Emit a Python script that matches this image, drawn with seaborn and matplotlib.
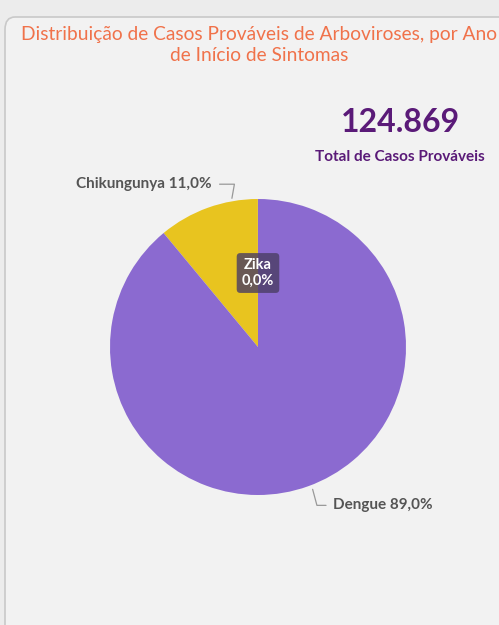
import numpy as np
import matplotlib
matplotlib.use("Agg")
import matplotlib.pyplot as plt
from matplotlib.patches import FancyBboxPatch
import seaborn as sns

# Data
diseases = ["Zika", "Chikungunya", "Dengue"]
cases = [19, 13730, 111120]
colors = ["#5B4A7A", "#E8C41F", "#8B6AD0"]

title = "Distribuição de Casos Prováveis de Arboviroses, por Ano\nde Início de Sintomas"
kpi_label = "Total de Casos Prováveis"

sns.set_theme(style="white")
plt.rcParams["font.family"] = ["Lato", "DejaVu Sans"]

W, H = 499, 625
fig = plt.figure(figsize=(W / 100, H / 100), dpi=100)
fig.patch.set_facecolor("#ECECEC")


def fx(x):
    return x / W


def fy(y):
    return 1 - y / H


# card background
card = FancyBboxPatch((fx(5), fy(700)), fx(600), fy(17) - fy(700),
                      boxstyle="round,pad=0,rounding_size=0.02",
                      transform=fig.transFigure, facecolor="#F2F2F2",
                      edgecolor="#C9C9C9", linewidth=1.2, zorder=-5)
fig.patches.append(card)

# pie axes: center (258, 347), radius 148 px
cx, cy, r = 258, 347, 148
ax = fig.add_axes([fx(cx - r), fy(cy + r), 2 * r / W, 2 * r / H])
ax.set_zorder(2)
ax.set_facecolor("none")
wedges, _ = ax.pie(cases, colors=colors, startangle=90, counterclock=True,
                   radius=1, wedgeprops=dict(linewidth=0))
ax.set_xlim(-1, 1)
ax.set_ylim(-1, 1)
ax.axis("off")

total = sum(cases)
pct = [c / total * 100 for c in cases]


def fmt_pct(p):
    return f"{p:.1f}%".replace(".", ",")


# Chikungunya label
ang = np.deg2rad(wedges[1].theta1 + 0.25 * (wedges[1].theta2 - wedges[1].theta1))
ax.annotate(f"{diseases[1]} {fmt_pct(pct[1])}",
            xy=(1.02 * np.cos(ang), 1.02 * np.sin(ang)), xytext=(-0.31, 1.10),
            ha="right", va="center", fontsize=11, fontweight="bold", color="#555555",
            arrowprops=dict(arrowstyle="-", color="#999999", lw=0.9,
                            shrinkA=3, shrinkB=0,
                            connectionstyle="angle,angleA=0,angleB=80,rad=0"),
            annotation_clip=False)

# Dengue label
ang = np.deg2rad(-69)
ax.annotate(f"{diseases[2]} {fmt_pct(pct[2])}",
            xy=(1.03 * np.cos(ang), 1.03 * np.sin(ang)), xytext=(0.51, -1.07),
            ha="left", va="center", fontsize=11, fontweight="bold", color="#555555",
            arrowprops=dict(arrowstyle="-", color="#999999", lw=0.9,
                            shrinkA=3, shrinkB=0,
                            connectionstyle="angle,angleA=0,angleB=-75,rad=0"),
            annotation_clip=False)

# Zika label (tooltip-like box)
ax.text(0, 0.5, f"{diseases[0]}\n{fmt_pct(pct[0])}", ha="center", va="center",
        fontsize=10.5, fontweight="bold", color="white", linespacing=1.15,
        bbox=dict(boxstyle="round,pad=0.35,rounding_size=0.25",
                  facecolor="#4A3D63", alpha=0.8, edgecolor="none"))

# title
fig.text(fx(259), fy(45), title, ha="center", va="center", fontsize=13.8,
         color="#F0724A", linespacing=1.3)

# KPI
fig.text(fx(400), fy(122), f"{total:,}".replace(",", "."), ha="center", va="center",
         fontsize=23, fontweight="bold", color="#5A1A78")
fig.text(fx(400), fy(157), kpi_label, ha="center", va="center",
         fontsize=11, fontweight="bold", color="#5A1A78")

fig.savefig("out.png", dpi=100, facecolor=fig.get_facecolor())
